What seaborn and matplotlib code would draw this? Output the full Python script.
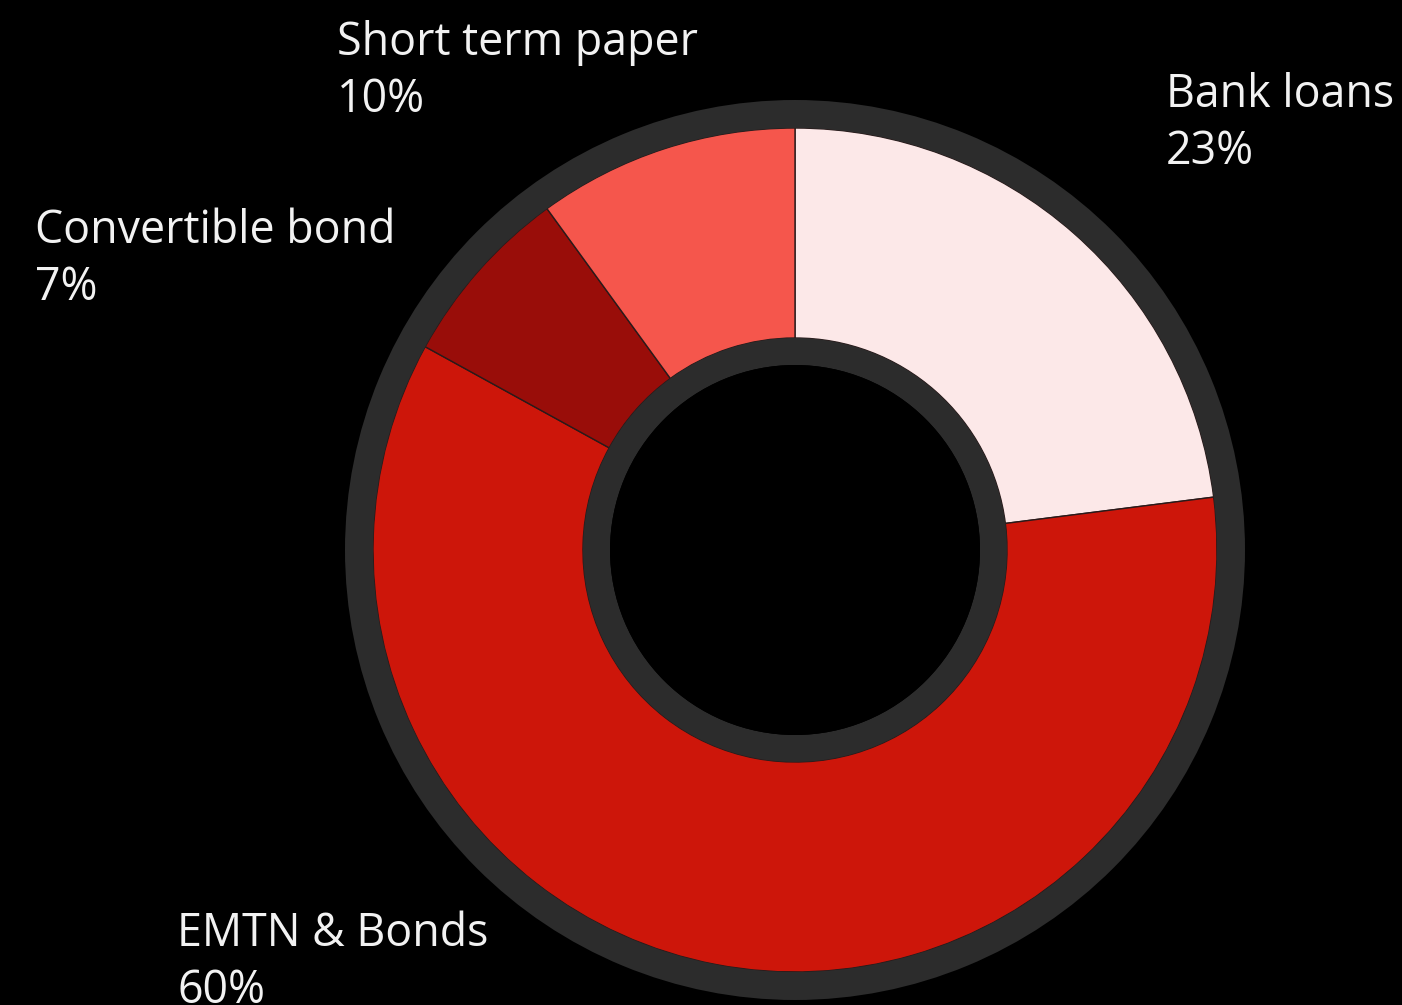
import matplotlib
matplotlib.use("Agg")
import matplotlib.pyplot as plt
from matplotlib.patches import Wedge, Circle
import seaborn as sns

# Funding structure shares (percent), drawn clockwise from 12 o'clock
categories = ["Bank loans", "EMTN & Bonds", "Convertible bond", "Short term paper"]
shares = [23, 60, 7, 10]
slice_colors = ["#FCE8E8", "#CD160A", "#990D09", "#F5564C"]

# Label anchors: left edge and first-line baseline, in figure pixels from the top
label_pos = {
    "Bank loans": (1166, 107),
    "EMTN & Bonds": (177, 946),
    "Convertible bond": (35, 243),
    "Short term paper": (337, 55),
}
line_gap = 57

sns.set_theme(style="white")
plt.rcParams["font.family"] = ["Open Sans", "DejaVu Sans"]

W, H = 1402, 1005
fig = plt.figure(figsize=(W / 100, H / 100), dpi=100, facecolor="black")
ax = fig.add_axes([0, 0, 1, 1])
ax.set_facecolor("black")

cx, cy = 795, H - 550
r_out, r_in = 422, 212

ax.pie(
    shares,
    colors=slice_colors,
    startangle=90,
    counterclock=False,
    radius=r_out,
    center=(cx, cy),
    frame=True,
    wedgeprops=dict(width=r_out - r_in, edgecolor="#2a1a1a", linewidth=1.0),
)
ax.set_xlim(0, W)
ax.set_ylim(0, H)
ax.set_aspect("equal")
ax.axis("off")

ring = "#2C2C2C"
# Outer bezel
ax.add_patch(Wedge((cx, cy), 450, 0, 360, width=28, facecolor=ring, edgecolor="none", zorder=5))
# Inner bezel and hole
ax.add_patch(Wedge((cx, cy), r_in, 0, 360, width=27, facecolor=ring, edgecolor="none", zorder=5))
ax.add_patch(Circle((cx, cy), 185, facecolor="black", edgecolor="none", zorder=6))

for name, val in zip(categories, shares):
    x, y = label_pos[name]
    for i, line in enumerate([name, f"{val}%"]):
        fig.text(x / W, 1 - (y + i * line_gap) / H, line, color="#F2F2F2",
                 fontsize=32.2, ha="left", va="baseline")

fig.savefig("out.png", dpi=100, facecolor="black")
